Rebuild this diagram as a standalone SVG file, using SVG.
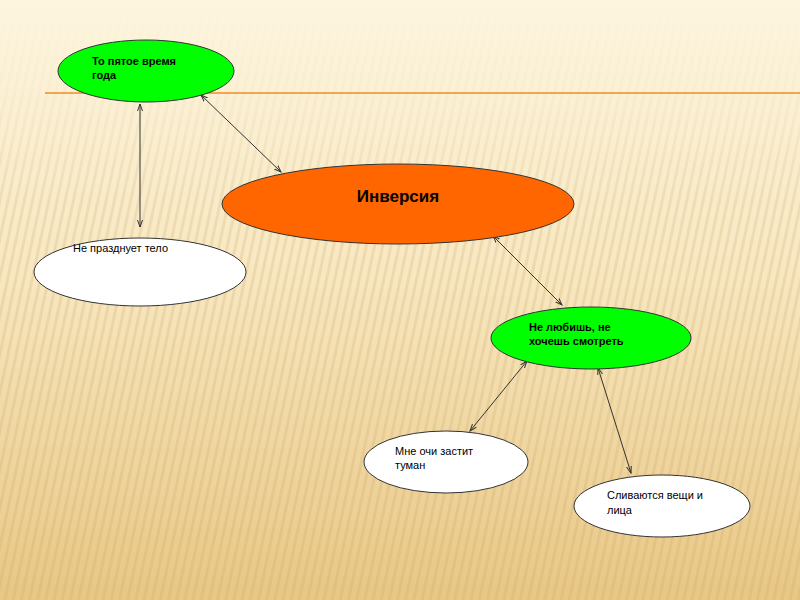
<svg xmlns="http://www.w3.org/2000/svg" width="800" height="600" viewBox="0 0 800 600">
<defs>
<linearGradient id="bg" x1="0" y1="0" x2="0" y2="1">
<stop offset="0" stop-color="#fdf5df"/>
<stop offset="0.45" stop-color="#f8e8c2"/>
<stop offset="1" stop-color="#e8c785"/>
</linearGradient>
<linearGradient id="fade" x1="0" y1="0" x2="0" y2="1">
<stop offset="0" stop-color="#fff" stop-opacity="0"/>
<stop offset="0.15" stop-color="#fff" stop-opacity="0.2"/>
<stop offset="0.35" stop-color="#fff" stop-opacity="1"/>
<stop offset="1" stop-color="#fff" stop-opacity="1"/>
</linearGradient>
<mask id="m">
<rect width="800" height="600" fill="url(#fade)"/>
</mask>
<pattern id="stripes" width="8" height="8" patternUnits="userSpaceOnUse" patternTransform="rotate(12)">
<rect width="3" height="8" fill="#c9a25a" opacity="0.2"/>
</pattern>
<marker id="ah" markerWidth="8" markerHeight="6" refX="7" refY="3" orient="auto-start-reverse" markerUnits="userSpaceOnUse">
<path d="M0,0.5 L7,3 L0,5.5" fill="none" stroke="#333" stroke-width="1"/>
</marker>
<style>
.conn line{stroke:#333;stroke-width:1;marker-start:url(#ah);marker-end:url(#ah)}
.node ellipse{stroke:#333;stroke-width:1}
.g{fill:#00ff00}
.o{fill:#ff6600}
.w{fill:#ffffff}
text{font-family:"Liberation Sans",Arial,sans-serif;fill:#000}
.b{font-weight:bold;font-size:11px}
.n{font-size:11px}
</style>
</defs>
<rect width="800" height="600" fill="url(#bg)"/>
<rect width="800" height="600" fill="url(#stripes)" mask="url(#m)"/>
<line x1="45" y1="93" x2="800" y2="93" stroke="#f0a850" stroke-width="2"/>
<g class="conn">
<line x1="140" y1="104" x2="140" y2="227"/>
<line x1="201" y1="95" x2="281" y2="172"/>
<line x1="493" y1="236" x2="562" y2="305"/>
<line x1="527" y1="361" x2="470" y2="431"/>
<line x1="598" y1="368" x2="631" y2="473"/>
</g>
<g id="node1" class="node">
<ellipse class="g" cx="146" cy="71" rx="88" ry="31"/>
<text class="b" x="92" y="65">То пятое время</text>
<text class="b" x="92" y="79">года</text>
</g>
<g id="node2" class="node">
<ellipse class="o" cx="398" cy="204" rx="176" ry="40"/>
<text x="398" y="202" text-anchor="middle" font-size="17" font-weight="bold">Инверсия</text>
</g>
<g id="node3" class="node">
<ellipse class="w" cx="140" cy="272" rx="106" ry="34"/>
<text class="n" x="73" y="252">Не празднует тело</text>
</g>
<g id="node4" class="node">
<ellipse class="g" cx="591" cy="338" rx="100" ry="31"/>
<text class="b" x="529" y="331">Не любишь, не</text>
<text class="b" x="529" y="345">хочешь смотреть</text>
</g>
<g id="node5" class="node">
<ellipse class="w" cx="446" cy="462" rx="82" ry="31"/>
<text class="n" x="395" y="455">Мне очи застит</text>
<text class="n" x="395" y="469">туман</text>
</g>
<g id="node6" class="node">
<ellipse class="w" cx="662" cy="506" rx="88" ry="31"/>
<text class="n" x="607" y="499">Сливаются вещи и</text>
<text class="n" x="607" y="514">лица</text>
</g>
</svg>
